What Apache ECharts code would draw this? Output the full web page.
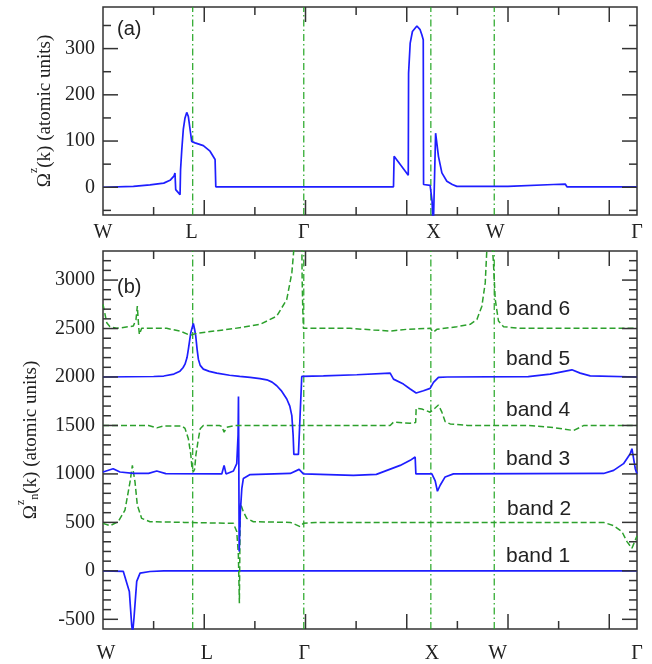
<!DOCTYPE html>
<html><head><meta charset="utf-8">
<script src="https://cdn.jsdelivr.net/npm/echarts@6/dist/echarts.min.js"></script>
<style>html,body{margin:0;padding:0;background:#fff}#c{width:652px;height:664px}</style>
</head><body><div id="c"></div>
<script>
// ---- data ----
const pointNames = ['W', 'L', 'Γ', 'X', 'W', 'Γ'];
const pointPosA = [0, 0.876, 1.983, 3.264, 3.874, 5.274];
const pointPosB = [0.028, 1.025, 1.987, 3.25, 3.898, 5.274];
const symLines = [0.886, 1.983, 3.238, 3.864];
const xMajor = [1, 2, 3, 4, 5];
const xMinor = [0.5, 1.5, 2.5, 3.5, 4.5];
const yTicksA = [0, 100, 200, 300];
const yMinorA = [-50, 50, 150, 250, 350];
const yTicksB = [-500, 0, 500, 1000, 1500, 2000, 2500, 3000];
const yMinorB = [-400, -300, -200, -100, 100, 200, 300, 400, 600, 700, 800, 900, 1100, 1200, 1300, 1400,
  1600, 1700, 1800, 1900, 2100, 2200, 2300, 2400, 2600, 2700, 2800, 2900, 3100, 3200];

const panelA = [[0,0],[0.3,2],[0.464,5],[0.6,9],[0.662,15],[0.7,24],[0.711,31],[0.718,-5],[0.761,-16],[0.766,38],
  [0.778,81],[0.793,125],[0.81,150],[0.827,162],[0.843,153],[0.86,125],[0.876,99],[0.909,96],[0.991,90],[1.057,78],
  [1.107,60],[1.114,1],[2.869,1],[2.875,67],[3.015,26],[3.018,247],[3.034,312],[3.056,337],[3.1,349],[3.132,341],
  [3.149,330],[3.163,319],[3.166,6],[3.231,4],[3.25,-30],[3.262,-90],[3.281,-90],[3.285,117],[3.313,67],[3.347,31],
  [3.396,13],[3.45,6],[3.495,2],[4.0,2],[4.45,6],[4.565,7],[4.582,1],[5.274,1]];

const band1 = [[0,0],[0.2,-5],[0.217,-24],[0.26,-212],[0.283,-554],[0.293,-640],[0.306,-486],[0.333,-109],
  [0.366,-24],[0.464,-7],[0.6,0],[5.274,0]];
const band2 = [[0,490],[0.07,466],[0.15,507],[0.217,626],[0.267,918],[0.29,1088],[0.316,918],[0.339,678],[0.382,541],
  [0.464,507],[0.8,500],[1.288,490],[1.321,405],[1.337,164],[1.347,-333],[1.352,-333],[1.356,700],[1.386,610],
  [1.42,541],[1.485,507],[1.85,500],[1.914,472],[1.947,456],[1.979,490],[2.1,500],[4.944,500],[5.043,466],
  [5.125,405],[5.175,302],[5.224,233],[5.274,360]];
const band3 = [[0,1020],[0.1,1054],[0.168,1020],[0.3,1005],[0.45,1005],[0.531,1030],[0.62,1003],[1.173,1000],
  [1.196,1088],[1.215,1000],[1.288,1030],[1.321,1106],[1.334,1400],[1.338,1800],[1.341,1200],[1.345,200],
  [1.356,600],[1.371,849],[1.386,952],[1.453,993],[1.85,1005],[1.937,1047],[1.979,1000],[2.473,986],[2.7,995],
  [2.935,1088],[3.034,1140],[3.083,1175],[3.09,1000],[3.248,1000],[3.281,928],[3.303,821],[3.33,883],[3.379,969],
  [3.461,1000],[4.944,1005],[5.043,1037],[5.141,1106],[5.207,1208],[5.224,1260],[5.257,1054],[5.274,1000]];
const band4 = [[0,1500],[0.45,1500],[0.531,1475],[0.6,1495],[0.78,1495],[0.81,1470],[0.843,1362],[0.867,1200],
  [0.88,1050],[0.892,1020],[0.905,1050],[0.918,1200],[0.942,1362],[0.96,1465],[0.991,1500],[1.15,1500],
  [1.173,1490],[1.196,1431],[1.222,1482],[1.3,1500],[2.836,1499],[2.869,1534],[3.034,1523],[3.088,1530],
  [3.093,1678],[3.149,1670],[3.231,1637],[3.28,1680],[3.313,1711],[3.347,1637],[3.379,1540],[3.429,1516],
  [3.6,1500],[4.2,1500],[4.417,1482],[4.647,1448],[4.746,1499],[5.274,1500]];
const band5 = [[0,2000],[0.5,2005],[0.6,2010],[0.7,2030],[0.76,2060],[0.79,2095],[0.81,2132],[0.83,2200],
  [0.843,2286],[0.867,2458],[0.892,2553],[0.905,2490],[0.916,2423],[0.93,2280],[0.942,2184],[0.96,2120],
  [0.991,2081],[1.05,2058],[1.124,2040],[1.25,2018],[1.35,2006],[1.453,1996],[1.55,1984],[1.618,1971],
  [1.67,1947],[1.716,1910],[1.76,1860],[1.815,1773],[1.845,1700],[1.865,1602],[1.878,1396],[1.885,1201],
  [1.93,1201],[1.963,2006],[2.177,2012],[2.507,2023],[2.836,2040],[2.852,2040],[2.869,1978],[2.967,1927],
  [3.034,1876],[3.093,1835],[3.165,1858],[3.231,1883],[3.264,1944],[3.313,1996],[3.4,2000],[4.2,2003],
  [4.417,2030],[4.631,2074],[4.713,2040],[4.812,2012],[5.274,2000]];
const band6 = [[0,2750],[0.037,2560],[0.069,2519],[0.135,2502],[0.299,2525],[0.326,2594],[0.339,2731],[0.353,2509],
  [0.359,2440],[0.382,2502],[0.629,2502],[0.761,2474],[0.86,2430],[0.926,2451],[1.288,2499],[1.551,2543],
  [1.716,2628],[1.815,2800],[1.865,3074],[1.9,3500],[1.93,3800],[1.96,3800],[1.967,3000],[1.973,2700],
  [1.979,2502],[2.441,2502],[2.671,2485],[2.836,2474],[3.001,2492],[3.231,2502],[3.264,2464],[3.297,2492],
  [3.495,2519],[3.626,2543],[3.693,2594],[3.742,2731],[3.775,2971],[3.795,3400],[3.811,3800],[3.83,3800],
  [3.855,3200],[3.874,2800],[3.906,2577],[3.956,2519],[4.121,2502],[5.274,2502]];

const bandLabelText = ['band 6', 'band 5', 'band 4', 'band 3', 'band 2', 'band 1'];
const bandLabelX = [3.98, 3.98, 3.98, 3.98, 3.99, 3.98];
const bandLabelY = [2697, 2184, 1660, 1147, 634, 151];

// ---- styling ----
const xMax = 5.274;
const rangeA = [-60, 390];
const rangeB = [-600, 3300];
const axisColor = '#333';
const txtColor = '#222';
const serif = 'Liberation Serif';
const sans = 'Liberation Sans';
const blue = '#1e1eff';
const green = '#2ca02c';
const vgreen = '#22a522';

function nameOf(v, pos) {
  let best = 0;
  for (let i = 1; i < pos.length; i++) if (Math.abs(pos[i] - v) < Math.abs(pos[best] - v)) best = i;
  return pointNames[best];
}
function xAxis(g, labelPos, margin) {
  return { gridIndex: g, type: 'value', min: 0, max: xMax, position: 'bottom', splitLine: { show: false },
    axisLine: { show: false, onZero: false }, axisTick: { show: false },
    axisLabel: { show: true, customValues: labelPos, margin: margin, formatter: v => nameOf(v, labelPos),
      fontFamily: serif, fontSize: 20, color: txtColor } };
}
function yAxis(g, range, major, name, gap) {
  const rich = {
    a: { fontFamily: serif, fontSize: 19, color: txtColor, lineHeight: 26, verticalAlign: 'bottom' },
    s: { fontFamily: serif, fontSize: 12, color: txtColor, lineHeight: 26, verticalAlign: 'top' },
    n: { fontFamily: serif, fontSize: 12, color: txtColor, lineHeight: 26, verticalAlign: 'bottom' }
  };
  return { gridIndex: g, type: 'value', min: range[0], max: range[1], position: 'left', splitLine: { show: false },
    axisLine: { show: false, onZero: false }, axisTick: { show: false },
    axisLabel: { show: true, customValues: major, margin: 8, formatter: v => String(v),
      fontFamily: serif, fontSize: 20, color: txtColor },
    name: name, nameLocation: 'middle', nameGap: gap,
    nameTextStyle: { fontFamily: serif, fontSize: 19, color: txtColor, rich: rich } };
}
// tick marks drawn through the axes' scales: kind 0/1 = x major/minor, 2/3 = y major/minor
function tickData(xM, xm, yM, ym) {
  return xM.map(v => [v, 0]).concat(xm.map(v => [v, 1]), yM.map(v => [v, 2]), ym.map(v => [v, 3]));
}
function tickSeries(g, yMin, data) {
  return { type: 'custom', xAxisIndex: g, yAxisIndex: g, silent: true, clip: false, z: 4, animation: false,
    data: data,
    renderItem: function (params, api) {
      const cs = params.coordSys;
      const v = api.value(0), t = api.value(1);
      const len = (t === 0 || t === 2) ? 15 : 8;
      let ls;
      if (t < 2) {
        const px = api.coord([v, yMin])[0];
        ls = [[px, cs.y + cs.height, px, cs.y + cs.height - len], [px, cs.y, px, cs.y + len]];
      } else {
        const py = api.coord([0, v])[1];
        ls = [[cs.x, py, cs.x + len, py], [cs.x + cs.width, py, cs.x + cs.width - len, py]];
      }
      return { type: 'group', children: ls.map(l => ({ type: 'line',
        shape: { x1: l[0], y1: l[1], x2: l[2], y2: l[3] }, style: { stroke: axisColor, lineWidth: 1.5 } })) };
    } };
}
function vLineSeries(g, range) {
  return symLines.map(x => ({ type: 'line', xAxisIndex: g, yAxisIndex: g, data: [[x, range[0]], [x, range[1]]],
    showSymbol: false, symbol: 'none', silent: true, animation: false, z: 2,
    lineStyle: { color: vgreen, width: 1.2, type: [7, 3, 1.5, 3] } }));
}
function lineSeries(data, g, solid) {
  return { type: 'line', data: data, xAxisIndex: g, yAxisIndex: g, showSymbol: false, symbol: 'none',
    clip: true, animation: false, z: 3,
    lineStyle: solid ? { color: blue, width: 1.7, type: 'solid' } : { color: green, width: 1.5, type: [6, 3] } };
}

const chart = echarts.init(document.getElementById('c'), null, { renderer: 'canvas' });
const gridStyle = { show: true, borderColor: axisColor, borderWidth: 1.5, backgroundColor: 'rgba(0,0,0,0)' };
chart.setOption({
  animation: false,
  backgroundColor: '#fff',
  grid: [
    Object.assign({ left: 103, right: 15, top: 7, height: 208 }, gridStyle),
    Object.assign({ left: 103, right: 15, top: 251, height: 381 }, gridStyle)
  ],
  xAxis: [xAxis(0, pointPosA, 8), xAxis(1, pointPosB, 15)],
  yAxis: [
    yAxis(0, rangeA, yTicksA, '{a|Ω}{s|z}{a|(k) (atomic units)}', 48),
    yAxis(1, rangeB, yTicksB, '{a|Ω}{s|z}{n|n}{a|(k) (atomic units)}', 62)
  ],
  series: vLineSeries(0, rangeA).concat(vLineSeries(1, rangeB), [
    lineSeries(panelA, 0, true),
    tickSeries(0, rangeA[0], tickData(xMajor, xMinor, yTicksA, yMinorA)),
    lineSeries(band1, 1, true),
    lineSeries(band2, 1, false),
    lineSeries(band3, 1, true),
    lineSeries(band4, 1, false),
    lineSeries(band5, 1, true),
    lineSeries(band6, 1, false),
    tickSeries(1, rangeB[0], tickData(xMajor, xMinor, yTicksB, yMinorB))
  ])
});

const graphics = [
  { type: 'text', left: 117, top: 19, style: { text: '(a)', fontFamily: sans, fontSize: 20, fill: txtColor } },
  { type: 'text', left: 117, top: 277, style: { text: '(b)', fontFamily: sans, fontSize: 20, fill: txtColor } }
];
bandLabelText.forEach((t, i) => {
  const p = chart.convertToPixel({ xAxisIndex: 1, yAxisIndex: 1 }, [bandLabelX[i], bandLabelY[i]]);
  graphics.push({ type: 'text', x: p[0], y: p[1],
    style: { text: t, fontFamily: sans, fontSize: 21, fill: txtColor, align: 'left', verticalAlign: 'middle' } });
});
chart.setOption({ graphic: graphics });
</script>
</body></html>
